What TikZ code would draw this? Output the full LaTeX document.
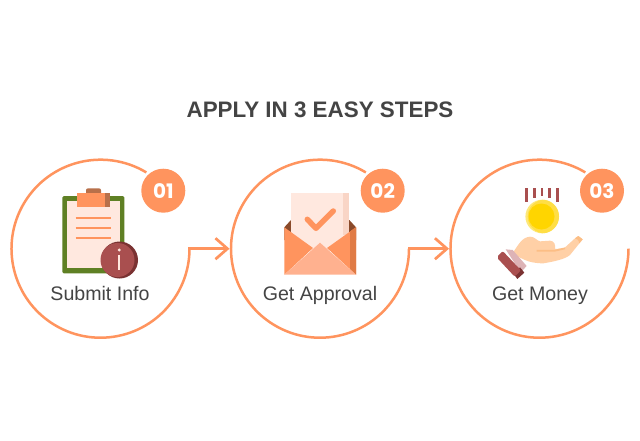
\documentclass[tikz,border=0pt]{standalone}
\usepackage{fontspec}
\setmainfont{Liberation Sans}
\newfontfamily\badgefont{Poppins}
\usetikzlibrary{arrows.meta}
\definecolor{accent}{HTML}{FF945E}
\definecolor{ink}{HTML}{444444}
\definecolor{paper}{HTML}{FFE8DF}
\definecolor{papershade}{HTML}{F9D5C6}
\definecolor{leaf}{HTML}{5F8024}
\definecolor{clipdark}{HTML}{B8704A}
\definecolor{wine}{HTML}{A94F4F}
\definecolor{winedark}{HTML}{7A3232}
\definecolor{flap}{HTML}{FFB18F}
\definecolor{flapdark}{HTML}{E07B45}
\definecolor{flapback}{HTML}{8A4A2A}
\definecolor{coinout}{HTML}{FDE87A}
\definecolor{coinmid}{HTML}{FFDE45}
\definecolor{coinin}{HTML}{FFD500}
\definecolor{skin}{HTML}{FFD0A6}
\definecolor{skindark}{HTML}{FCBE85}
\definecolor{cuff}{HTML}{DDB3B6}
\tikzset{
  ringnode/.style={circle,minimum size=178pt,inner sep=0pt,outer sep=0pt},
  ringline/.style={draw=accent,line width=2.5pt},
  badge/.style={circle,fill=accent,minimum size=44pt,inner sep=0pt,text=white,font=\badgefont\fontsize{20}{20}\selectfont\bfseries},
  steplabel/.style={text=ink,font=\fontsize{19.6}{20}\selectfont,inner sep=0pt,anchor=base},
  flow/.style={ringline,line cap=rect,-{Straight Barb[length=12pt,width=21pt,line width=2.7pt]},shorten >=1.5pt},
}
\begin{document}
\begin{tikzpicture}[x=1pt,y=-1pt]
\useasboundingbox (0,0) rectangle (640,440);
\fill[white] (0,0) rectangle (640,440);
\node[text=ink,font=\fontsize{22.4}{24}\selectfont\bfseries,inner sep=0pt] (title) at (320,110) {APPLY IN 3 EASY STEPS};

\node[ringnode] (c1) at (100.5,248.7) {};
\node[ringnode] (c2) at (320,248.7) {};
\node[ringnode] (c3) at (539.5,248.7) {};
\foreach \c in {c1,c2,c3}{
  \draw[ringline] (\c.center) ++(-59:89) arc[start angle=-59,end angle=-360,radius=89];
}
\draw[flow] (c1.east) -- (c2.west);
\draw[flow] (c2.east) -- (c3.west);

\node[badge] (b1) at (163.3,190.7) {01};
\node[badge] (b2) at (382.7,190.7) {02};
\node[badge] (b3) at (602,190.7) {03};

\node[steplabel] (l1) at (100,300.7) {Submit Info};
\node[steplabel] (l2) at (320,300.7) {Get Approval};
\node[steplabel] (l3) at (540,300.7) {Get Money};

% clipboard
\fill[leaf,rounded corners=1.5pt] (62.3,196) rectangle (124.3,273.3);
\fill[paper] (67.3,200.7) rectangle (120,268.3);
\fill[clipdark,rounded corners=2pt] (86,188.3) rectangle (101,196);
\fill[clipdark] (104,193.3) rectangle (110,206.7);
\fill[accent] (77,193.3) rectangle (104.7,206.7);
\foreach \y in {218,228,238}{\draw[accent,line width=2.6pt] (75.7,\y) -- (111,\y);}
\fill[winedark] (119.5,260) circle (18.5);
\fill[wine] (117.5,260) circle (17);
\draw[paper,line width=2.2pt] (119.3,255) -- (119.3,270);
\fill[paper] (119.3,250) circle (1.6);

% envelope
\fill[flapback] (284.3,227.3) -- (291,220) -- (349.3,220) -- (356,227.3) -- (356,240) -- (284.3,240) -- cycle;
\fill[paper] (291,192.7) rectangle (349.3,250);
\fill[papershade] (343,192.7) rectangle (349.3,235);
\draw[accent,line width=5.5pt,line cap=round,line join=round] (307.3,219.3) -- (316,228.3) -- (333.3,211);
\fill[accent] (284.3,227.3) -- (313,248) -- (284.3,274.7) -- cycle;
\fill[accent] (356,227.3) -- (327,248) -- (356,274.7) -- cycle;
\fill[flapdark] (356,227.3) -- (350,231.5) -- (350,269) -- (356,274.7) -- cycle;
\fill[flap] (284.3,274.7) -- (320,242.7) -- (356,274.7) -- cycle;

% coin
\foreach \x/\b in {526.7/202,534.3/197.5,542/196,549.7/197.5,557.3/202}{
  \draw[wine,line width=2.6pt] (\x,188) -- (\x,\b);}
\fill[coinout] (542.2,216.5) circle (16.8);
\begin{scope}
  \clip (542.2,216.5) circle (16.8);
  \fill[coinmid] (544.5,216.5) circle (16.8);
\end{scope}
\fill[coinin] (541.5,216.5) circle (13);
\begin{scope}[shift={(490,180)},x=0.3333pt,y=-0.3333pt]
  \fill[skin] (66,222) .. controls (85,195) and (95,172) .. (120,170)
    .. controls (135,170) and (140,182) .. (150,184) -- (180,182)
    .. controls (192,182) and (198,195) .. (195,207) -- (222,205) -- (255,175)
    -- (265,168) -- (278,178) -- (240,225) .. controls (225,238) and (190,245) .. (160,250)
    .. controls (135,250) and (115,245) .. (105,240) -- cycle;
  \fill[skindark] (255,175) -- (265,168) -- (278,178) -- (268,190) .. controls (266,180) and (262,176) .. (255,175) -- cycle;
  \draw[skindark,line width=1.8pt] (140,212) -- (195,212) -- (225,205);
  \fill[cuff] (47,208) -- (68,210) -- (110,258) -- (92,277) -- cycle;
  \fill[winedark] (72,283) -- (82,297) -- (103,278) -- (90,262) -- cycle;
  \fill[wine,rounded corners=2pt] (38,213) -- (20,232) -- (74,290) -- (93,271) -- cycle;
\end{scope}
\end{tikzpicture}
\end{document}
